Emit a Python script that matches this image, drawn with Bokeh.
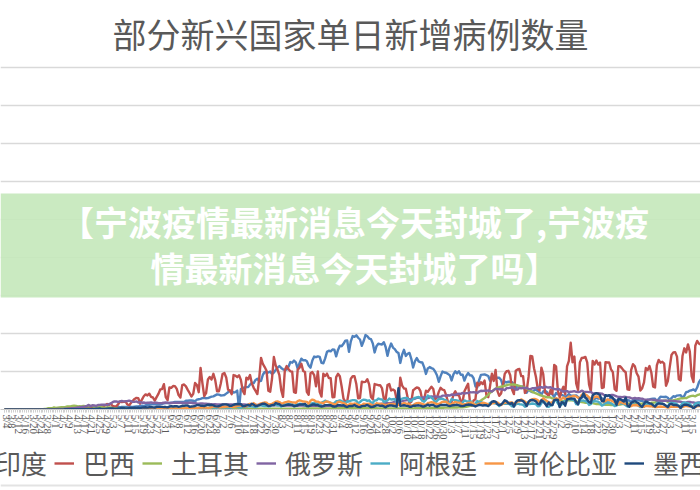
import math
import datetime as dt
from bokeh.plotting import figure
from bokeh.layouts import column
from bokeh.models import Range1d, FixedTicker, Legend, LegendItem, BoxAnnotation, Label, Span
from bokeh.embed import file_html
from bokeh.resources import INLINE

# ---------------- data (daily new cases, thousands; one row = one week Wed..Tue) -------------
start_date = dt.date(2020, 3, 4)

india = [
    0.02,0.0,0.0,0.0,0.0,0.0,0.01,
    0.0,0.02,0.01,0.02,0.03,0.02,0.03,
    0.02,0.05,0.06,0.08,0.07,0.08,0.1,
    0.09,0.09,0.14,0.1,0.09,0.1,0.23,
    0.4,0.5,0.5,0.5,0.5,0.6,0.5,
    0.6,0.8,0.8,0.9,0.7,1.0,1.0,
    0.9,1.0,1.1,1.0,1.3,1.2,1.5,
    1.3,1.4,1.8,1.4,1.6,1.5,1.6,
    1.8,1.8,2.4,2.4,2.5,2.6,3.9,
    2.7,3.3,3.3,3.3,3.6,4.2,3.6,
    3.5,3.7,3.9,3.9,4.9,5.0,4.6,
    5.6,5.6,6.1,6.7,7.0,6.8,6.5,
    6.4,6.6,7.5,8.0,8.4,8.4,8.2,
    8.9,9.3,9.9,9.9,9.9,9.9,9.9,
    9.9,11.5,11.5,11.9,11.9,11.5,10.7,
    12.9,13.5,14.0,14.9,15.4,14.8,14.9,
    15.9,16.9,17.3,18.6,19.9,19.5,18.5,
    18.6,19.1,20.9,22.7,24.9,24.2,22.3,
    22.8,24.9,0.0,27.1,28.6,28.7,29.4,
    29.4,32.7,34.9,34.8,38.9,40.4,37.1,
    37.7,45.7,49.3,49.0,48.7,50.0,46.7,
    48.5,52.1,55.1,57.1,54.7,52.9,52.1,
    52.5,56.3,62.5,61.5,64.4,62.1,53.6,
    60.9,66.9,64.6,65.0,63.5,57.9,55.1,
    64.5,69.7,68.9,69.9,69.2,61.4,60.9,
    67.2,75.8,77.3,76.5,79.0,78.8,69.9,
    78.4,83.9,83.3,86.4,90.6,90.8,75.8,
    89.7,96.6,95.7,97.6,94.4,92.1,83.8,
    90.1,97.9,96.4,93.3,92.6,86.9,75.1,
    83.3,86.5,86.0,85.4,88.6,82.2,70.6,
    80.5,86.8,81.5,79.5,75.8,74.4,61.3,
    72.0,78.5,70.5,73.3,74.4,66.7,55.3,
    63.5,67.7,63.4,62.2,61.9,55.7,46.8,
    54.0,55.8,54.4,53.4,50.1,45.1,36.5,
    43.9,49.9,48.6,48.3,46.9,45.2,38.3,
    46.3,50.2,47.6,50.4,45.7,45.9,38.1,
    44.3,47.9,44.9,44.7,41.1,30.5,29.2,
    38.6,45.6,45.9,46.2,45.2,44.1,37.9,
    44.4,43.1,41.3,41.8,41.8,38.8,31.1,
    36.6,35.6,36.6,36.7,36.0,32.9,26.6,
    31.5,29.4,30.0,30.3,27.1,22.1,26.4,
    24.0,22.9,25.1,26.6,24.3,22.9,19.6,
    23.9,24.7,23.1,18.7,22.3,20.0,16.4,
    21.8,20.0,20.0,19.1,18.2,16.5,18.1,
    20.3,18.1,18.1,18.2,18.6,16.3,12.6,
    15.9,16.9,15.6,15.1,15.1,13.8,10.1,
    13.8,15.2,14.5,14.3,14.8,13.2,9.1,
    12.7,11.7,18.9,13.1,13.0,11.4,8.6,
    12.9,12.4,12.4,11.7,12.1,11.8,9.1,
    12.9,12.1,12.1,12.2,11.6,11.6,9.1,
    11.6,12.9,13.2,13.9,14.3,14.2,10.6,
    13.7,16.7,16.6,16.5,16.8,15.5,12.3,
    14.9,17.4,16.8,18.3,18.6,18.7,15.4,
    17.9,22.9,23.3,24.9,25.3,26.5,24.5,
    28.9,35.9,39.7,
]

brazil = [
    0.0,0.0,0.0,0.0,0.0,0.0,0.0,
    0.0,0.0,0.1,0.1,0.1,0.1,0.1,
    0.1,0.2,0.3,0.3,0.2,0.3,0.3,
    0.2,0.5,0.4,0.5,0.4,0.3,0.3,
    1.1,1.1,1.1,1.2,0.8,0.9,1.7,
    2.2,1.7,1.7,1.0,1.3,1.2,1.8,
    3.0,3.3,2.9,3.2,1.9,2.1,2.3,
    2.7,3.7,4.0,5.5,3.4,4.6,5.4,
    7.2,6.0,7.5,4.6,4.1,4.1,6.9,
    10.5,9.9,10.2,10.6,6.6,5.6,8.6,
    11.4,13.9,15.3,15.0,7.9,13.1,17.4,
    19.9,18.5,20.8,16.5,15.8,11.7,16.3,
    20.6,26.4,26.9,33.3,16.4,12.2,28.9,
    28.6,30.9,30.8,27.1,18.9,15.7,32.1,
    32.9,30.4,25.9,21.7,17.1,20.6,34.9,
    32.2,22.8,54.8,34.7,17.5,21.4,39.4,
    42.7,39.5,46.9,38.7,24.1,24.1,33.8,
    46.7,48.1,42.2,26.1,24.8,20.2,45.3,
    44.6,42.6,45.0,39.0,24.8,20.3,41.9,
    39.7,45.4,34.2,28.5,24.6,20.3,41.1,
    67.9,59.9,55.9,51.1,24.6,23.3,40.8,
    69.1,57.8,52.4,45.4,25.8,16.6,51.6,
    57.2,53.1,50.2,49.9,23.0,22.0,52.2,
    55.1,60.1,50.6,49.3,23.1,19.4,47.8,
    49.3,45.3,30.4,50.0,23.4,17.0,47.1,
    44.2,47.2,41.4,41.3,16.2,16.4,42.7,
    46.9,43.8,30.2,14.3,10.3,10.3,25.0,
    40.6,43.7,43.7,33.5,14.8,15.2,36.7,
    36.0,36.3,39.8,33.1,16.4,13.4,33.5,
    32.8,32.0,31.9,28.2,14.3,13.2,32.1,
    33.4,25.0,26.3,24.6,13.1,8.8,41.9,
    31.5,27.7,27.4,15.8,8.4,10.2,25.3,
    27.2,29.0,28.5,24.1,12.3,13.3,24.8,
    23.2,26.8,30.0,26.9,13.5,15.7,23.2,
    28.6,26.1,25.4,18.9,10.1,8.8,10.1,
    19.8,23.9,18.9,18.9,10.6,10.6,23.9,
    29.1,33.9,10.0,5.0,11.9,13.4,35.3,
    31.9,35.9,33.5,38.0,18.6,16.2,31.1,
    47.1,37.6,52.0,24.6,18.0,21.1,31.9,
    46.9,50.4,50.9,45.0,26.3,20.3,51.1,
    52.6,53.3,43.9,43.9,21.8,25.2,42.9,
    70.6,69.8,54.0,43.1,27.4,25.0,55.1,
    46.7,22.2,20.5,17.8,25.6,20.5,58.7,
    56.8,24.6,15.8,24.5,29.8,20.0,56.6,
    63.9,87.8,62.0,69.7,34.3,25.8,62.0,
    67.8,68.0,69.2,62.1,33.0,23.7,64.0,
    59.1,64.4,59.1,61.8,28.3,29.0,62.3,
    61.8,61.8,52.7,49.1,26.8,24.6,56.9,
    56.9,54.1,50.9,49.1,26.5,25.9,52.3,
    59.6,56.9,47.7,43.2,24.8,28.0,35.7,
    54.7,51.9,57.1,48.7,30.0,29.0,57.9,
    65.2,61.6,62.8,60.4,31.3,37.5,55.2,
    71.7,75.1,75.5,69.6,39.7,38.2,70.3,
    80.5,75.1,85.7,76.2,43.8,36.2,83.9,
    90.3,86.7,85.6,
]

turkey = [
    0.0,0.0,0.0,0.0,0.0,0.0,0.0,
    0.0,0.0,0.0,0.0,0.01,0.01,0.03,
    0.05,0.08,0.17,0.3,0.29,0.29,0.34,
    0.56,0.9,1.2,1.7,1.8,1.6,2.7,
    2.1,2.5,2.8,3.0,3.1,3.1,3.9,
    4.1,4.1,4.7,5.1,4.8,4.1,4.3,
    4.1,4.8,4.4,3.8,3.8,4.7,4.6,
    3.1,3.1,3.1,3.1,2.9,2.4,2.1,
    2.9,2.7,2.2,1.9,1.7,1.6,1.8,
    1.6,1.8,2.0,1.5,1.5,1.6,1.7,
    1.7,1.6,1.4,1.6,1.4,1.2,1.1,
    0.97,1.0,0.95,1.1,1.2,1.1,0.99,
    1.2,1.2,1.1,0.84,0.84,0.79,0.99,
    0.99,1.0,0.99,1.0,1.0,1.2,1.4,
    1.2,1.2,1.5,1.6,1.6,1.6,1.5,
    1.4,1.3,1.2,1.2,1.2,1.5,1.5,
    1.4,1.5,1.5,1.4,1.4,1.3,1.3,
    1.2,1.2,1.1,1.0,1.2,1.1,1.0,
    1.0,1.0,1.0,1.0,1.0,1.0,1.0,
    0.93,0.93,0.92,0.91,0.92,0.93,0.93,
    0.95,0.96,0.95,0.95,0.92,0.93,0.93,
    1.0,1.0,1.0,1.0,1.0,1.0,1.0,
    1.0,1.1,1.2,1.2,1.2,1.2,1.2,
    1.2,1.2,1.3,1.3,1.3,1.3,1.3,
    1.3,1.3,1.4,1.4,1.4,1.5,1.5,
    1.5,1.5,1.5,1.5,1.6,1.6,1.6,
    1.6,1.7,1.7,1.6,1.6,1.6,1.6,
    1.6,1.7,1.7,1.7,1.7,1.7,1.7,
    1.7,1.7,1.7,1.7,1.7,1.6,1.6,
    1.6,1.5,1.5,1.5,1.5,1.5,1.5,
    1.5,1.4,1.4,1.4,1.5,1.5,1.5,
    1.5,1.4,1.4,1.4,1.4,1.4,1.5,
    1.6,1.7,1.7,1.8,1.8,1.9,1.9,
    1.9,1.9,2.0,2.1,2.1,2.2,2.3,
    2.3,2.4,2.4,2.5,2.5,2.6,2.5,
    2.6,2.7,2.7,2.8,2.9,3.0,3.1,
    3.4,4.1,4.9,5.6,6.3,7.2,8.4,
    10.1,11.8,13.6,15.2,17.1,19.4,21.9,
    23.7,25.6,27.4,28.8,29.3,30.1,30.6,
    31.2,31.9,32.7,33.1,32.8,32.9,32.4,
    31.6,31.1,30.5,29.7,28.6,27.4,26.1,
    24.8,23.2,22.1,21.2,20.3,19.1,18.4,
    17.5,16.9,15.9,16.3,15.8,14.6,14.0,
    12.9,13.0,12.7,11.2,10.3,11.2,12.0,
    12.2,12.5,11.9,11.7,10.8,10.2,10.0,
    9.9,9.4,8.9,8.8,8.7,8.7,8.5,
    7.8,7.3,7.2,6.9,6.6,6.4,6.3,
    6.2,6.1,6.0,6.0,6.1,6.2,6.2,
    6.4,7.1,7.3,7.5,7.8,7.7,7.8,
    7.8,7.8,7.6,7.7,7.6,7.7,7.7,
    7.8,8.1,8.4,8.8,8.9,9.3,9.6,
    10.0,10.7,11.2,11.5,11.8,9.9,11.8,
    11.5,11.8,12.8,13.3,14.0,14.6,14.6,
    15.0,14.9,16.2,17.2,17.9,18.0,17.3,
    18.9,19.6,20.2,
]

russia = [
    0.0,0.0,0.0,0.0,0.0,0.0,0.0,
    0.0,0.0,0.0,0.01,0.01,0.02,0.02,
    0.03,0.05,0.05,0.05,0.06,0.07,0.06,
    0.16,0.18,0.2,0.23,0.27,0.3,0.5,
    0.44,0.77,0.6,0.6,0.58,0.95,1.15,
    1.15,1.46,1.67,1.79,2.19,2.56,2.77,
    3.39,3.45,4.07,4.79,6.06,4.27,5.64,
    5.24,4.77,5.85,5.97,6.36,6.2,6.41,
    5.84,7.1,7.93,9.62,10.63,10.58,10.1,
    10.56,11.23,10.7,10.82,11.01,11.66,10.9,
    10.03,9.97,10.6,9.2,9.71,8.93,9.26,
    8.76,8.85,8.89,9.43,8.6,9.0,8.92,
    8.34,8.37,8.57,8.95,9.27,9.04,8.54,
    8.5,8.83,8.73,8.86,8.99,8.98,8.6,
    8.78,8.77,8.71,8.84,8.83,8.25,8.25,
    7.84,7.79,7.97,7.89,7.73,7.6,7.43,
    7.18,7.11,6.81,6.85,6.79,6.72,6.69,
    6.56,6.76,6.76,6.63,6.74,6.61,6.37,
    6.63,6.51,6.64,6.61,6.61,6.54,6.42,
    6.43,6.2,6.14,6.1,5.94,5.84,5.84,
    5.86,5.81,5.87,5.76,5.64,5.39,5.4,
    5.48,5.51,5.46,5.46,5.43,5.16,5.2,
    5.21,5.24,5.24,5.19,5.18,5.1,4.95,
    5.1,5.06,5.06,4.97,4.87,4.84,4.75,
    4.8,4.87,4.92,4.87,4.85,4.85,4.68,
    4.68,4.71,4.83,4.89,4.98,4.97,4.73,
    4.73,4.99,5.1,5.21,5.2,5.18,5.1,
    5.36,5.45,5.45,5.41,5.51,5.51,5.53,
    5.67,5.76,5.9,6.07,6.15,6.2,6.23,
    6.43,6.6,7.21,7.52,7.87,8.14,8.13,
    8.23,8.48,9.38,10.5,10.88,10.1,10.3,
    11.1,11.6,12.1,12.8,13.6,13.3,13.9,
    14.2,15.2,15.7,15.1,15.7,15.9,16.3,
    14.9,15.7,17.3,16.9,17.2,16.6,17.0,
    16.2,18.3,18.3,18.1,18.7,18.3,19.8,
    19.4,19.0,20.6,20.9,20.6,21.8,20.9,
    21.6,21.5,22.7,22.6,22.8,22.4,21.8,
    23.6,24.6,24.3,24.8,24.6,25.2,24.3,
    23.7,25.5,27.5,27.1,26.7,26.7,26.4,
    25.3,28.1,28.1,28.7,29.0,28.1,26.1,
    26.2,28.6,27.9,28.6,28.1,28.6,27.1,
    26.8,27.9,28.2,28.5,28.6,29.4,29.3,
    28.6,29.9,29.3,29.0,29.2,28.0,27.0,
    26.5,27.0,26.3,24.8,23.4,24.2,24.2,
    22.9,23.4,23.7,24.1,23.3,22.9,23.2,
    24.8,23.5,23.2,23.2,22.8,23.3,21.1,
    21.1,21.2,21.3,21.1,20.9,19.3,18.7,
    17.7,18.2,19.0,19.2,18.4,17.2,16.6,
    16.4,16.2,16.7,16.6,16.0,16.0,14.9,
    14.5,15.1,14.5,14.8,14.4,14.2,13.2,
    12.8,13.0,13.0,13.0,12.7,12.6,11.8,
    11.4,11.8,11.5,11.5,11.5,11.6,11.4,
    11.4,11.4,11.0,10.6,10.5,10.2,9.5,
    9.0,9.4,9.9,10.0,9.4,9.3,8.3,
    9.1,9.4,9.3,
]

argentina = [
    0.0,0.0,0.0,0.0,0.0,0.0,0.0,
    0.01,0.0,0.0,0.01,0.01,0.02,0.0,
    0.02,0.02,0.03,0.04,0.07,0.04,0.07,
    0.09,0.08,0.1,0.05,0.07,0.15,0.11,
    0.07,0.12,0.1,0.08,0.14,0.1,0.12,
    0.1,0.11,0.09,0.13,0.08,0.1,0.15,
    0.13,0.15,0.1,0.09,0.11,0.13,0.1,
    0.1,0.17,0.1,0.17,0.11,0.11,0.11,
    0.14,0.12,0.16,0.16,0.15,0.12,0.17,
    0.18,0.24,0.22,0.24,0.17,0.17,0.27,
    0.32,0.31,0.3,0.26,0.45,0.39,0.48,
    0.47,0.72,0.63,0.7,0.72,0.55,0.6,
    0.7,0.8,0.72,0.95,0.8,0.7,0.9,
    0.93,0.93,0.98,0.79,0.7,1.1,1.23,
    1.23,1.39,1.27,1.18,1.06,1.2,1.37,
    1.2,1.5,1.52,1.55,1.64,2.05,2.15,
    2.6,2.6,2.4,2.9,2.2,2.2,2.5,
    2.9,2.7,2.8,2.6,2.0,2.6,3.6,
    3.6,3.4,3.0,2.5,3.5,3.0,3.6,
    4.2,4.2,4.2,3.9,3.0,3.9,5.3,
    5.7,4.9,4.5,4.7,4.1,4.1,5.9,
    5.9,6.4,5.6,5.8,3.8,5.5,6.8,
    7.0,7.4,6.9,7.2,4.6,6.0,7.0,
    7.5,7.2,6.9,5.5,4.7,6.8,8.0,
    8.2,8.7,8.4,7.4,5.9,8.8,10.0,
    11.7,10.1,9.8,8.7,7.2,8.4,10.9,
    10.9,12.0,10.9,9.9,8.0,10.8,10.5,
    11.7,12.3,12.3,11.5,8.0,9.9,12.0,
    13.0,12.7,11.4,12.1,9.1,8.8,11.9,
    12.0,14.4,13.5,13.3,10.0,11.1,11.8,
    14.4,13.2,13.5,13.8,10.3,11.0,12.0,
    14.3,14.9,15.1,14.9,10.8,11.2,13.8,
    15.3,16.0,16.5,14.9,11.6,10.1,12.9,
    18.3,17.1,15.7,13.5,9.3,11.1,14.0,
    13.9,14.3,12.7,12.3,7.8,9.0,13.6,
    12.7,12.4,11.8,11.3,6.4,9.3,11.9,
    11.1,10.4,11.0,10.0,7.0,7.6,11.3,
    9.6,9.6,8.7,8.0,5.4,6.6,8.8,
    9.4,8.3,7.8,7.2,4.5,6.5,7.8,
    7.6,7.4,7.9,6.2,4.3,4.1,6.6,
    7.7,7.0,6.8,6.0,3.6,5.8,7.3,
    7.3,7.9,7.5,7.0,4.3,4.6,8.2,
    10.8,10.2,3.8,3.4,5.3,5.9,11.6,
    12.0,8.1,4.4,6.8,7.4,13.8,13.8,
    13.9,13.0,12.9,12.0,7.0,6.6,11.6,
    11.7,11.8,11.0,9.7,6.0,7.0,10.4,
    10.9,10.7,10.3,8.6,5.1,6.3,8.6,
    9.2,8.9,8.2,6.7,4.6,5.2,7.3,
    8.0,7.7,7.5,5.7,3.9,4.4,7.0,
    7.2,6.5,6.1,5.0,3.2,3.5,3.4,
    7.2,7.4,7.1,5.7,3.9,4.3,7.9,
    8.8,7.9,7.5,6.4,4.0,4.0,8.0,
    8.6,8.4,8.1,6.7,4.6,5.0,8.4,
    9.3,8.8,8.2,7.2,4.2,4.7,7.9,
    8.5,8.8,8.7,
]

colombia = [
    0.0,0.0,0.0,0.0,0.0,0.0,0.0,
    0.0,0.0,0.0,0.0,0.01,0.02,0.01,
    0.03,0.02,0.05,0.03,0.05,0.04,0.07,
    0.06,0.04,0.1,0.07,0.09,0.1,0.1,
    0.1,0.13,0.07,0.1,0.1,0.07,0.1,
    0.2,0.14,0.1,0.1,0.09,0.15,0.12,
    0.12,0.13,0.1,0.15,0.2,0.13,0.2,
    0.2,0.2,0.2,0.27,0.2,0.16,0.24,
    0.3,0.25,0.4,0.28,0.3,0.4,0.4,
    0.5,0.5,0.6,0.5,0.4,0.5,0.6,
    0.6,0.6,0.4,0.5,0.7,0.6,0.6,
    0.7,0.8,0.6,0.7,0.9,0.5,0.9,
    0.7,0.8,1.0,1.2,1.4,1.0,1.0,
    1.1,1.3,1.5,1.4,1.3,1.0,1.4,
    1.5,1.8,2.0,2.1,2.0,1.3,1.6,
    1.6,2.4,2.6,2.9,2.6,2.4,2.1,
    2.4,3.0,3.8,3.8,3.4,2.8,3.0,
    3.2,3.2,3.7,4.1,4.0,3.2,3.4,
    3.8,4.8,5.1,5.3,4.9,3.8,4.1,
    6.1,7.6,6.1,8.4,6.5,4.9,7.2,
    8.1,8.5,9.4,9.1,6.5,7.1,7.4,
    8.9,10.3,10.6,9.8,8.0,8.3,9.3,
    9.9,10.7,10.0,9.4,9.3,8.6,11.0,
    12.1,11.3,10.5,10.3,10.1,7.4,11.5,
    13.0,12.2,10.5,10.3,9.1,9.0,8.2,
    10.1,10.6,9.8,8.8,7.6,7.0,7.3,
    10.1,10.2,9.1,8.4,7.8,5.4,6.4,
    7.8,7.4,7.8,7.7,6.2,5.5,5.6,
    7.6,7.4,7.2,7.5,6.4,5.2,5.5,
    8.2,7.7,7.2,7.4,6.2,6.0,5.8,
    7.5,6.6,7.3,7.0,6.0,5.9,6.3,
    7.5,8.4,7.9,7.6,6.4,5.2,5.6,
    7.4,8.4,8.7,8.2,7.3,6.4,6.2,
    8.5,9.0,9.6,9.0,8.0,7.2,7.2,
    8.5,10.1,10.2,10.2,8.3,6.8,6.6,
    8.6,10.0,9.0,9.0,8.1,6.2,7.1,
    7.3,8.7,9.0,9.4,7.4,5.9,6.0,
    7.7,8.1,8.8,8.5,7.8,6.4,6.6,
    8.0,8.5,9.0,9.3,7.4,5.8,7.7,
    8.9,9.5,8.4,9.2,9.3,7.6,8.1,
    10.8,10.8,13.3,11.9,10.4,8.5,8.9,
    12.2,13.2,13.9,13.5,12.3,9.4,12.0,
    14.8,13.0,11.0,9.5,8.5,9.8,12.6,
    14.9,13.6,12.7,14.0,15.9,13.8,14.8,
    17.0,16.3,17.5,18.1,17.1,15.6,15.1,
    19.2,21.1,19.9,18.3,16.1,12.5,13.9,
    16.5,17.1,16.8,14.8,12.5,10.3,11.2,
    13.3,12.5,12.0,10.6,9.5,7.6,7.1,
    9.8,9.4,8.1,7.5,6.0,4.6,4.4,
    5.9,5.6,5.9,5.2,4.5,3.6,3.6,
    4.6,4.6,4.3,4.4,3.9,3.2,3.1,
    3.7,4.0,3.6,3.5,3.3,2.6,3.0,
    3.9,3.6,3.6,3.7,3.5,2.7,3.2,
    4.1,4.7,4.2,4.0,3.6,2.9,3.1,
    4.3,4.5,4.7,
]

mexico = [
    0.0,0.0,0.0,0.0,0.0,0.0,0.0,
    0.0,0.0,0.0,0.0,0.01,0.01,0.03,
    0.03,0.04,0.04,0.07,0.05,0.07,0.05,
    0.08,0.1,0.16,0.14,0.13,0.15,0.17,
    0.16,0.17,0.18,0.13,0.19,0.3,0.27,
    0.37,0.4,0.26,0.31,0.35,0.39,0.34,
    0.45,0.55,0.48,0.62,0.76,0.39,0.84,
    0.73,0.97,1.09,1.24,0.88,0.84,0.85,
    1.2,1.4,1.5,1.4,1.1,1.2,1.4,
    1.6,1.9,1.9,1.5,1.3,1.9,1.9,
    2.0,2.4,2.1,2.4,1.9,2.4,2.7,
    3.0,2.5,2.9,3.3,2.8,2.6,3.5,
    3.4,3.4,3.5,3.2,3.2,2.8,3.9,
    4.4,3.9,4.3,4.3,3.5,4.1,4.9,
    4.9,5.2,5.2,3.5,3.9,4.1,4.6,
    5.7,5.7,5.0,5.0,4.6,5.3,6.3,
    6.0,6.1,5.4,4.4,4.1,4.3,5.4,
    6.6,6.7,6.7,6.1,4.7,4.9,6.3,
    6.9,7.3,6.9,7.0,4.5,4.5,5.4,
    6.0,5.2,7.6,6.4,4.7,4.9,5.9,
    6.8,7.6,7.7,6.2,4.7,5.0,5.9,
    5.8,8.5,7.6,7.0,5.1,4.8,5.4,
    6.1,6.6,6.1,5.8,4.3,4.9,5.6,
    6.6,6.8,6.5,7.4,4.4,4.3,5.3,
    6.5,6.6,5.7,6.1,4.4,3.9,4.4,
    5.8,5.8,5.8,5.7,4.3,3.7,4.2,
    6.0,5.7,5.1,5.6,4.1,3.3,4.4,
    4.8,4.7,5.9,4.4,3.4,3.1,4.4,
    4.8,5.0,6.0,4.5,3.1,3.6,4.3,
    5.4,5.4,4.7,5.0,4.0,2.9,4.6,
    5.2,5.4,4.9,4.4,3.7,28.1,4.8,
    5.1,5.6,5.0,4.8,3.7,3.6,4.9,
    5.0,5.3,5.5,5.1,4.0,4.0,5.0,
    6.4,5.0,6.0,6.1,4.3,3.9,4.8,
    5.9,6.0,5.9,6.0,5.1,4.5,5.2,
    5.6,5.9,6.2,5.5,4.6,4.4,4.9,
    6.0,6.5,6.2,5.9,5.0,4.0,5.2,
    6.2,5.7,5.2,5.6,5.6,4.5,6.7,
    10.3,10.8,10.3,6.9,5.7,6.4,8.9,
    12.1,11.0,8.4,7.5,8.6,3.8,9.6,
    12.0,12.3,11.9,11.0,8.3,4.6,10.4,
    12.2,12.5,11.9,10.8,7.5,6.8,12.1,
    10.4,7.5,4.6,9.3,6.1,5.9,12.4,
    13.0,12.5,3.1,9.6,9.0,5.0,13.7,
    13.9,14.4,14.3,14.3,9.7,6.8,14.4,
    15.9,21.4,15.8,12.8,9.8,8.5,18.9,
    20.5,21.4,20.5,19.0,10.9,10.9,18.9,
    17.9,18.8,16.7,15.1,12.2,6.2,14.0,
    13.7,12.0,10.5,15.3,5.2,3.6,8.9,
    10.1,11.2,9.6,8.2,5.1,3.4,7.6,
    10.5,9.6,8.1,7.8,5.5,3.8,6.5,
    8.1,7.8,7.6,6.7,5.0,3.2,6.7,
    7.4,6.0,6.1,5.6,4.6,1.8,5.0,
    6.3,6.3,5.7,4.8,3.8,1.6,3.6,
    5.4,5.5,5.2,
]

countries = ["印度", "巴西", "土耳其", "俄罗斯", "阿根廷", "哥伦比亚", "墨西哥"]
series = [india, brazil, turkey, russia, argentina, colombia, mexico]
colors = ["#4F81BD", "#C0504D", "#9BBB59", "#8064A2", "#4BACC6", "#F79646", "#1F497D"]
y_ticks = [50000, 100000, 150000, 200000, 250000, 300000, 350000, 400000, 450000]

title_text = "部分新兴国家单日新增病例数量"
banner_lines = ["【宁波疫情最新消息今天封城了,宁波疫", "情最新消息今天封城了吗】"]

# ---------------- derived categories ----------------
n_days = len(india)
days = list(range(n_days))
dates = [start_date + dt.timedelta(days=d) for d in days]
tick_days = [d for d in days[::4] if d <= 376]
tick_labels = [f"{dates[d].month}/{dates[d].day}" for d in tick_days]

# ---------------- layout constants (pixels) ----------------
W = 700
H_MAIN, H_LEG = 444, 46
FRAME_TOP, FRAME_BOTTOM = 64, 409     # frame top a little above the top gridline
GRID_TOP_PX = 67                       # pixel row of the 450000 gridline
PX_PER_DAY = 1.8324
X0 = -4 / PX_PER_DAY
X1 = X0 + W / PX_PER_DAY
YTOP = 450000
YMAX = YTOP * (FRAME_BOTTOM - FRAME_TOP) / (FRAME_BOTTOM - GRID_TOP_PX)


def px_y_to_val(py):
    return (FRAME_BOTTOM - py) / (FRAME_BOTTOM - FRAME_TOP) * YMAX


def px_x_to_day(px):
    return X0 + px / PX_PER_DAY


p = figure(width=W, height=H_MAIN, output_backend="svg", toolbar_location=None,
           x_range=Range1d(X0, X1), y_range=Range1d(0, YMAX),
           y_axis_location=None,
           min_border_left=0, min_border_right=0,
           min_border_top=FRAME_TOP, min_border_bottom=H_MAIN - FRAME_BOTTOM,
           outline_line_color=None, background_fill_color="white",
           border_fill_color="white")

p.title.text = title_text
p.title.align = "center"
p.title.text_font = "Noto Sans CJK SC"
p.title.text_font_size = "34px"
p.title.text_font_style = "normal"
p.title.text_color = "#595959"
p.title.standoff = 13

# grid
p.xgrid.visible = False
p.ygrid.ticker = FixedTicker(ticks=y_ticks)
p.ygrid.grid_line_color = "#d9d9d9"
p.ygrid.grid_line_width = 1.5

# x axis
ax = p.xaxis[0]
ax.ticker = FixedTicker(ticks=tick_days, minor_ticks=days)
ax.major_label_overrides = {d: lab for d, lab in zip(tick_days, tick_labels)}
ax.major_label_orientation = "vertical"
ax.major_label_text_font = "Liberation Serif"
ax.major_label_text_font_size = "11px"
ax.major_label_text_color = "#595959"
ax.major_label_standoff = 2
ax.axis_line_color = "#c8c8c8"
ax.major_tick_line_color = "#d0d0d0"
ax.minor_tick_line_color = "#d0d0d0"
ax.major_tick_in = 0
ax.major_tick_out = 3
ax.minor_tick_in = 0
ax.minor_tick_out = 3

# lines
for name, vals, col in zip(countries, series, colors):
    ys = [v * 1000 for v in vals]
    p.line(days, ys, line_color=col, line_width=2.4, line_join="round")

# overlay banner
banner = BoxAnnotation(bottom=px_y_to_val(297), top=px_y_to_val(193),
                       fill_color="#c5e8bc", fill_alpha=0.92, line_color=None,
                       level="overlay")
p.add_layout(banner)
for txt, py in zip(banner_lines, [221, 267]):
    p.add_layout(Label(x=px_x_to_day(354), y=px_y_to_val(py), text=txt,
                       text_align="center", text_baseline="middle",
                       text_font="Noto Sans CJK SC", text_font_style="bold",
                       text_font_size="34px", text_color="white", level="overlay"))

# legend strip (own figure so that it is not clipped by the main frame)
pl = figure(width=W, height=H_LEG, output_backend="svg", toolbar_location=None,
            x_range=Range1d(0, 1), y_range=Range1d(0, H_LEG),
            x_axis_location=None, y_axis_location=None,
            min_border=0, outline_line_color=None,
            background_fill_color="white", border_fill_color="white")
pl.xgrid.visible = False
pl.ygrid.visible = False
leg_renderers = [pl.line([math.nan, math.nan], [math.nan, math.nan], line_color=col, line_width=2.4)
                 for col in colors]
legend = Legend(items=[LegendItem(label=c, renderers=[r]) for c, r in zip(countries, leg_renderers)],
                orientation="horizontal", location=(-34, 9),
                glyph_width=20, glyph_height=20, label_standoff=9, spacing=7,
                padding=0, margin=0, border_line_color=None, background_fill_alpha=0,
                label_text_font="Noto Sans CJK SC", label_text_font_size="26px",
                label_text_color="#595959")
pl.add_layout(legend, "center")
# thin light frame line at the bottom edge of the picture
pl.add_layout(Span(location=H_LEG - (485 - H_MAIN), dimension="width",
                   line_color="#e3e3e3", line_width=2))

layout = column(p, pl, spacing=0)
open("out.html", "w").write(file_html(layout, INLINE))
